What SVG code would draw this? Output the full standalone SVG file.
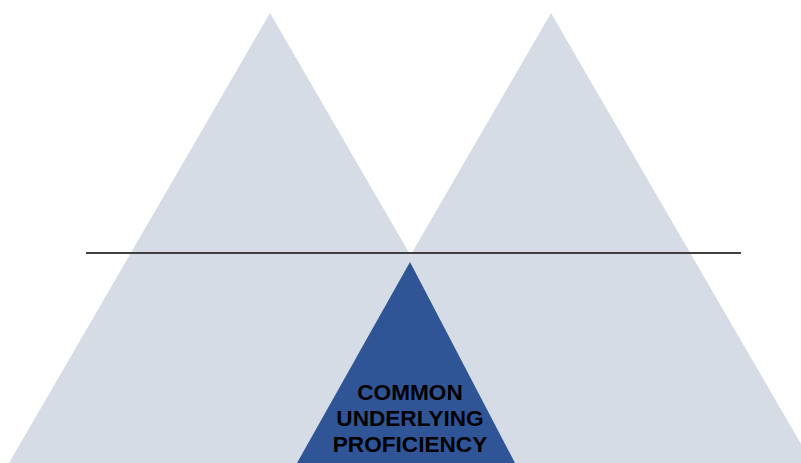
<svg xmlns="http://www.w3.org/2000/svg" width="801" height="463" viewBox="0 0 801 463">
  <style>
    .peak { fill: #D6DCE5; }
    .core { fill: #2F5597; }
    .label { font-family: "Liberation Sans", Arial, sans-serif; font-weight: bold; font-size: 22.6px; fill: #000; text-anchor: middle; }
    .surface { stroke: #404040; stroke-width: 2; fill: none; }
  </style>
  <rect width="801" height="463" fill="#FFFFFF"/>
  <g id="left-peak">
    <polygon class="peak" points="270,13 531,463 9,463"/>
  </g>
  <g id="right-peak">
    <polygon class="peak" points="551,13 812,463 290,463"/>
  </g>
  <g id="connectors">
    <line class="surface" x1="86" y1="253" x2="741" y2="253"/>
  </g>
  <g id="common-underlying-proficiency">
    <polygon class="core" points="410,262 515,463 297,463"/>
    <text class="label" x="410" y="400">COMMON</text>
    <text class="label" x="410" y="426">UNDERLYING</text>
    <text class="label" x="410" y="452">PROFICIENCY</text>
  </g>
</svg>
